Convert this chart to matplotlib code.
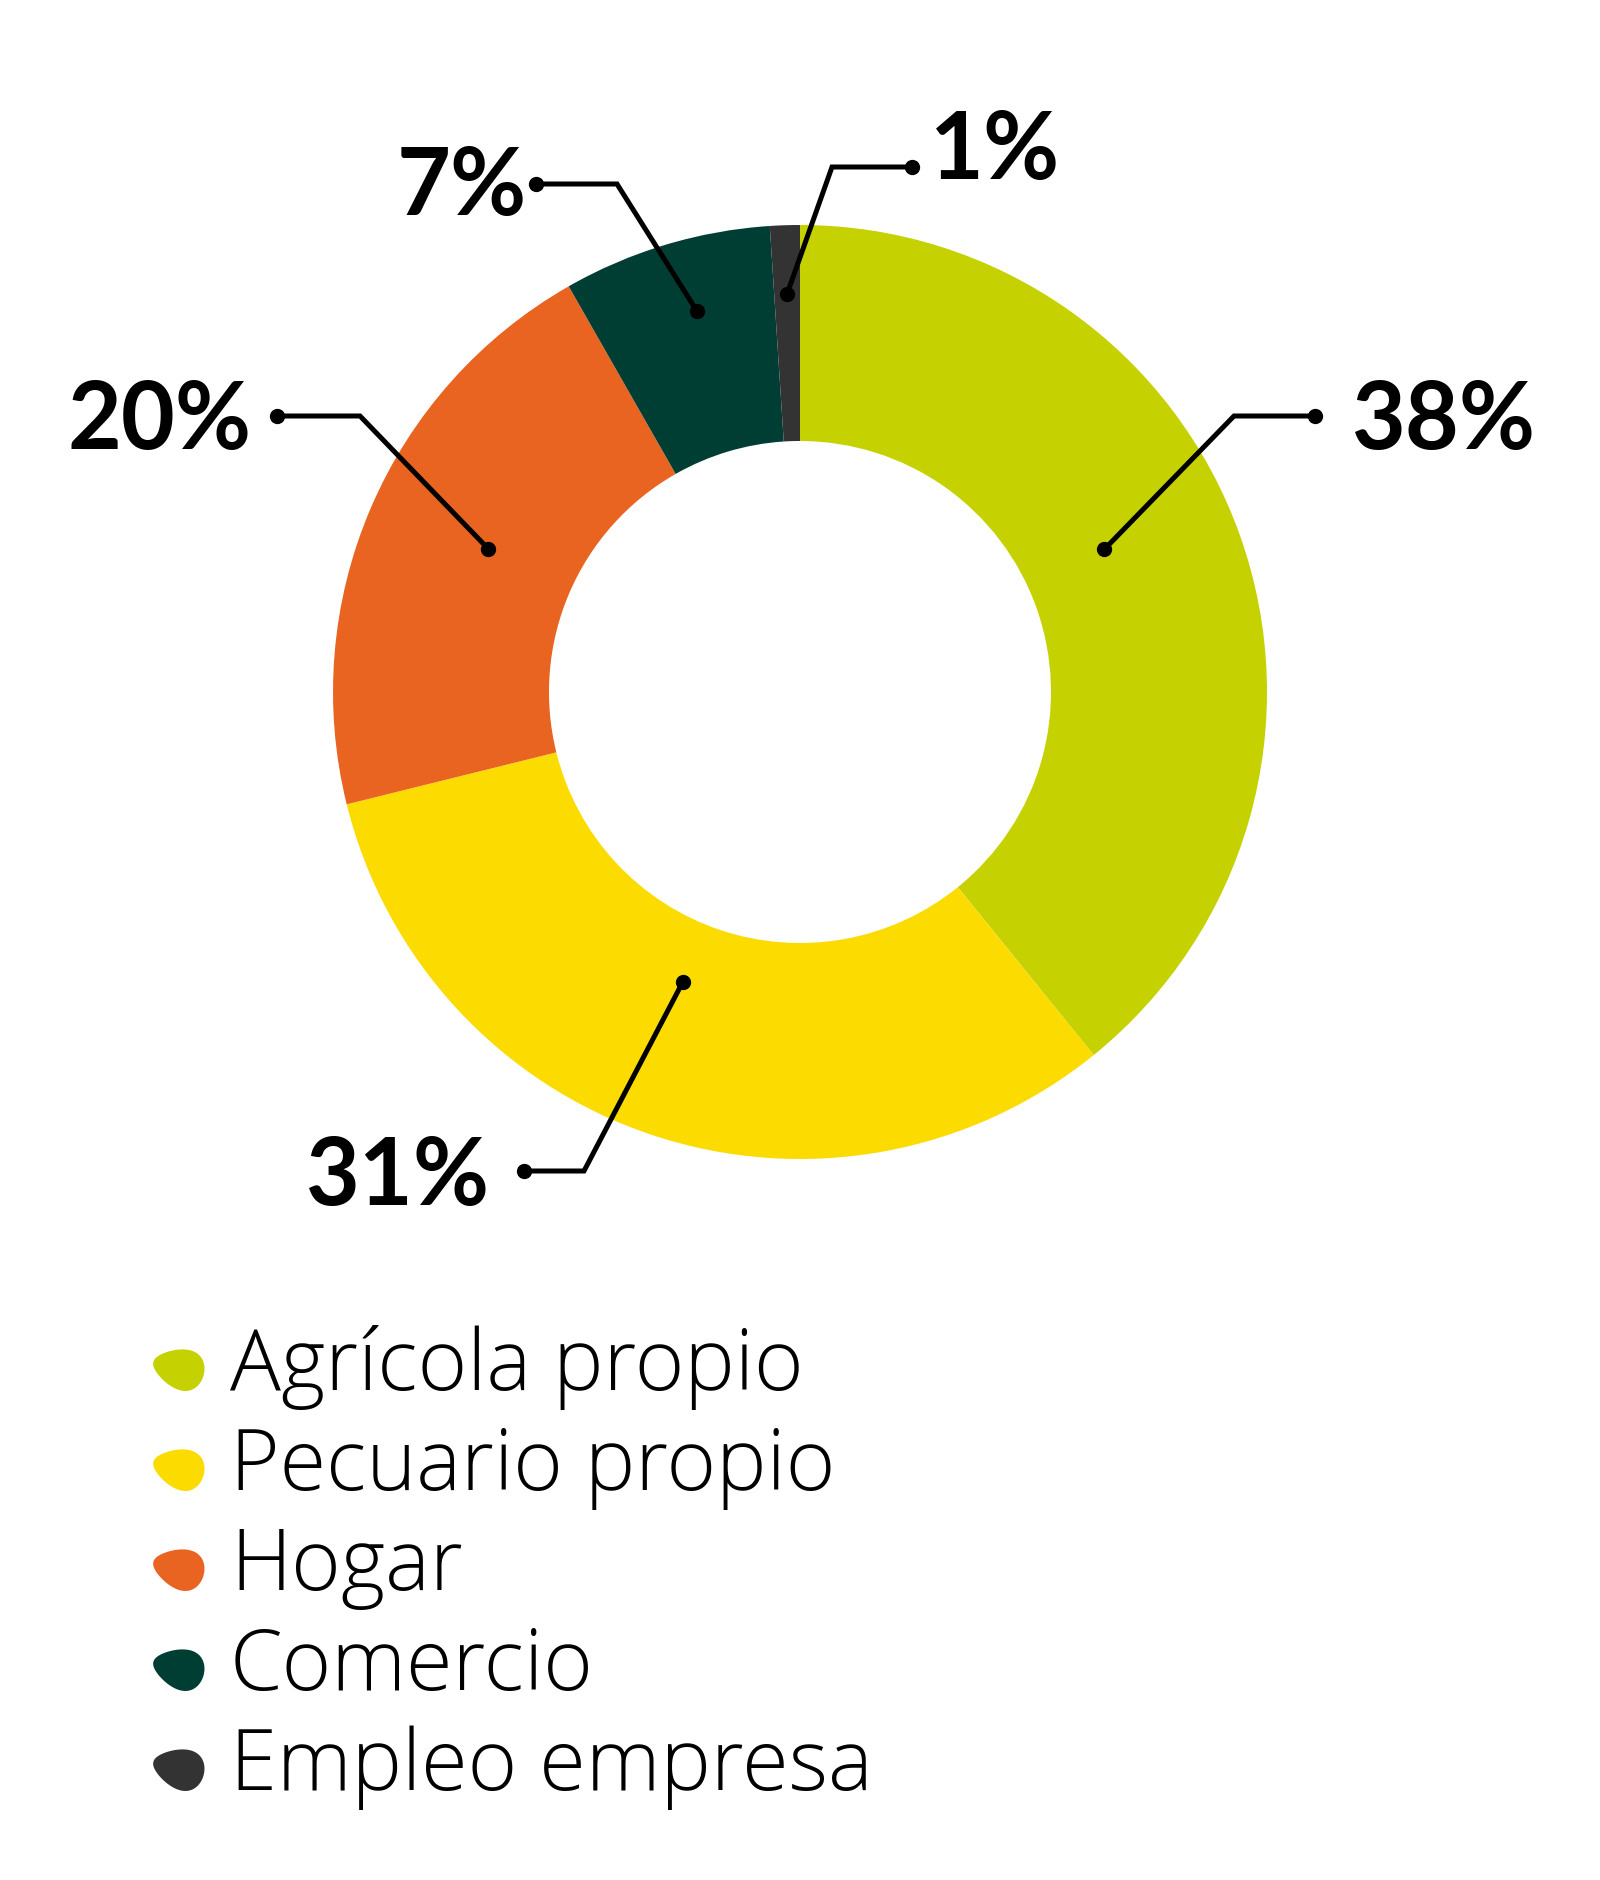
import numpy as np
import matplotlib
matplotlib.use("Agg")
import matplotlib.pyplot as plt
from matplotlib.path import Path

# data
categories = ["Agrícola propio", "Pecuario propio", "Hogar", "Comercio",
              "Empleo empresa"]
shares = [38, 31, 20, 7, 1]
labels = ["38%", "31%", "20%", "7%", "1%"]
colors = ["#C5D100", "#FCDB00", "#E96420", "#003D33", "#333333"]

plt.rcParams["font.family"] = ["Lato", "DejaVu Sans"]

W, H = 1600, 1880
CX, CY = 800, H - 692
R_OUT = 467
RING = 0.4625


def blob_marker():
    """Rounded leaf-like marker used in the legend."""
    t = np.linspace(0, 2 * np.pi, 80)
    x = np.cos(t)
    y = 0.95 * np.sin(t) * (0.8 + 0.25 * np.cos(t))
    verts = np.column_stack([x, y])
    rot = np.deg2rad(-15)
    rm = np.array([[np.cos(rot), -np.sin(rot)], [np.sin(rot), np.cos(rot)]])
    verts = verts @ rm.T
    codes = [Path.MOVETO] + [Path.LINETO] * (len(verts) - 2) + [Path.CLOSEPOLY]
    return Path(verts, codes)


fig = plt.figure(figsize=(W / 100, H / 100), dpi=100)
ax = fig.add_axes([0, 0, 1, 1])

wedges, _ = ax.pie(shares, colors=colors, startangle=90, counterclock=False,
                   radius=R_OUT, center=(CX, CY),
                   wedgeprops=dict(width=R_OUT * RING, linewidth=0))

# leader lines: where the dot sits in the ring, then elbow and end points
anchor_frac = [0.46, 0.53, 0.52, 0.56, 0.5]
anchor_rad = [0.72, 0.67, 0.735, 0.845, 0.853]
elbows = [(1234, 416), (584, 1171), (360, 416), (617, 184), (832, 167)]
ends = [(1315, 416), (524, 1171), (277, 416), (536, 184), (912, 167)]
text_pos = [(1352, 422, "left"), (490, 1178, "right"), (252, 422, "right"),
            (527, 188, "right"), (930, 152, "left")]

for i, w in enumerate(wedges):
    ang = np.deg2rad(w.theta2 - anchor_frac[i] * (w.theta2 - w.theta1))
    ax0 = CX + anchor_rad[i] * R_OUT * np.cos(ang)
    ay0 = CY + anchor_rad[i] * R_OUT * np.sin(ang)
    ex, ey = elbows[i]
    fx, fy = ends[i]
    xs = [ax0, ex, fx]
    ys = [ay0, H - ey, H - fy]
    ax.plot(xs, ys, color="black", lw=3.6, solid_capstyle="round",
            solid_joinstyle="miter", zorder=3)
    ax.plot([xs[0], xs[-1]], [ys[0], ys[-1]], "o", color="black", ms=10,
            zorder=4)
    tx, ty, ha = text_pos[i]
    ax.text(tx, H - ty, labels[i], ha=ha, va="center", fontsize=67,
            fontweight="bold", color="black")

# legend
marker = blob_marker()
for i, (name, c) in enumerate(zip(categories, colors)):
    y = H - (1368 + i * 100)
    ax.scatter([178], [y], marker=marker, s=1400, color=c, linewidths=0)
    ax.text(230, y, name, ha="left", va="center", fontsize=61,
            family=["Open Sans", "DejaVu Sans"], fontweight="light",
            color="black")

ax.set_xlim(0, W)
ax.set_ylim(0, H)
ax.set_aspect("auto")
ax.axis("off")

fig.savefig("out.png", dpi=100, facecolor="white")
